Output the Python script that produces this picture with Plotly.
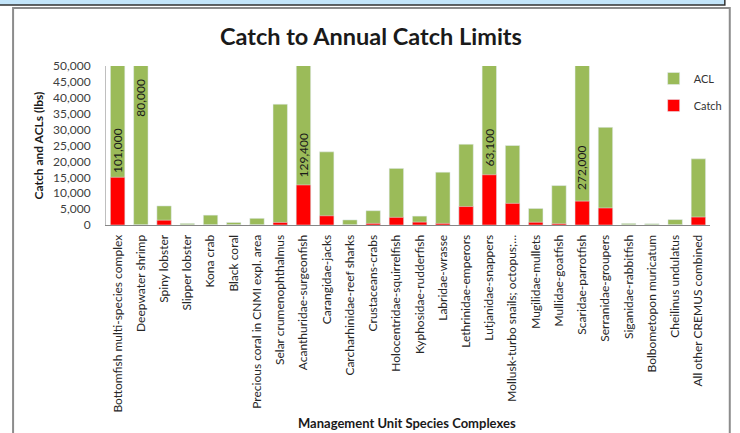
import plotly.graph_objects as go

categories = [
    "Bottomfish multi-species complex", "Deepwater shrimp", "Spiny lobster",
    "Slipper lobster", "Kona crab", "Black coral",
    "Precious coral in CNMI expl. area", "Selar crumenophthalmus",
    "Acanthuridae-surgeonfish", "Carangidae-jacks", "Carcharhinidae-reef sharks",
    "Crustaceans-crabs", "Holocentridae-squirrelfish", "Kyphosidae-rudderfish",
    "Labridae-wrasse", "Lethrinidae-emperors", "Lutjanidae-snappers",
    "Mollusk-turbo snails; octopus;\u2026", "Mugilidae-mullets", "Mullidae-goatfish",
    "Scaridae-parrotfish", "Serranidae-groupers", "Siganidae-rabbitfish",
    "Bolbometopon muricatum", "Cheilinus undulatus", "All other CREMUS combined",
]
acl = [101000, 80000, 6000, 500, 3100, 800, 2100, 38000, 129400, 23000, 1600,
       4500, 17800, 2800, 16600, 25400, 63100, 25000, 5200, 12400, 272000,
       30700, 500, 400, 1700, 20800]
catch = [15000, 0, 1500, 0, 0, 0, 0, 800, 12600, 2900, 0,
         500, 2400, 900, 500, 5800, 15800, 6800, 850, 400, 7500,
         5350, 0, 0, 0, 2500]
# labels for bars exceeding the axis maximum
label_cats = [categories[0], categories[1], categories[8], categories[16], categories[20]]
label_vals = [101000, 80000, 129400, 63100, 272000]
label_y = [23500, 40000, 22000, 24500, 18000]
y_max = 50000

FONT = "Lato"
fig = go.Figure()
fig.add_trace(go.Bar(x=categories, y=acl, name="ACL", marker_color="#9BBB59",
                     legendgroup="a"))
fig.add_trace(go.Bar(x=categories, y=catch, name="Catch", marker_color="#FF0000",
                     legendgroup="b"))

for c, v, yy in zip(label_cats, label_vals, label_y):
    fig.add_annotation(x=c, y=yy, text=f"{v:,}", textangle=-90, showarrow=False,
                       font=dict(family=FONT, size=12, color="#1a1a1a"))

W, H = 740, 433
L, R, T, B = 106, 23, 66, 208
pw, ph = W - L - R, H - T - B
def px(x): return (x - L) / pw
def py(y): return (H - B - y) / ph

fig.add_shape(type="rect", xref="paper", yref="paper",
              x0=px(12), x1=px(737), y0=py(445), y1=py(8),
              line=dict(color="#8c8c8c", width=2), fillcolor="rgba(0,0,0,0)", layer="below")
fig.add_shape(type="rect", xref="paper", yref="paper",
              x0=px(-5), x1=px(732), y0=py(5), y1=py(-5),
              line=dict(color="#333333", width=1.5), fillcolor="#C3E5FA", layer="above")

fig.add_annotation(xref="paper", yref="paper", x=px(410), y=py(423), yanchor="middle",
                   text="<b>Management Unit Species Complexes</b>", showarrow=False,
                   font=dict(family=FONT, size=13, color="#1a1a1a"))

fig.update_layout(
    width=W, height=H, margin=dict(l=L, r=R, t=T, b=B),
    paper_bgcolor="white", plot_bgcolor="white",
    barmode="overlay", bargap=0.38,
    title=dict(text="<b>Catch to Annual Catch Limits</b>", x=px(374), xref="paper",
               xanchor="center", y=1 - 37 / H, yanchor="middle",
               font=dict(family=FONT, size=23.5, color="#1a1a1a")),
    legend=dict(x=px(660), y=py(64), xanchor="left", yanchor="top",
                traceorder="grouped", tracegroupgap=8,
                font=dict(family=FONT, size=11, color="#333333"),
                bgcolor="rgba(0,0,0,0)", itemwidth=30),
    showlegend=True,
)
fig.update_xaxes(tickangle=-90, tickfont=dict(family=FONT, size=12, color="#262626"),
                 showline=True, linecolor="#868686", linewidth=1,
                 ticks="outside", ticklen=4, tickcolor="rgba(0,0,0,0)",
                 showgrid=False, automargin=False)
fig.update_yaxes(range=[0, y_max], dtick=5000, tickformat=",",
                 tickfont=dict(family=FONT, size=12, color="#404040"),
                 showline=True, linecolor="#BFBFBF", linewidth=1,
                 ticks="outside", ticklen=12, tickcolor="rgba(0,0,0,0)",
                 showgrid=False, zeroline=False, automargin=False,
                 title=dict(text="<b>Catch and ACLs (lbs)</b>", standoff=6,
                            font=dict(family=FONT, size=12, color="#1a1a1a")))

fig.write_html("out.html", config={"displayModeBar": False},
               post_script="document.body.style.margin='0';")
